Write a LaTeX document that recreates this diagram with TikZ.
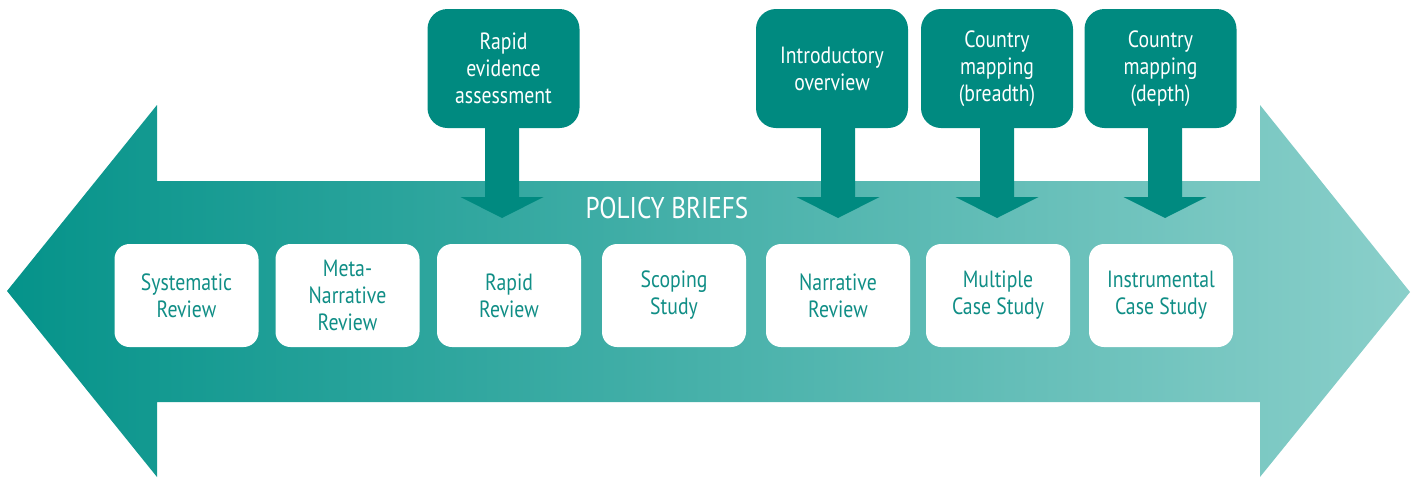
\documentclass[tikz,border=0pt]{standalone}
\usepackage{fontspec}
\setmainfont[FakeStretch=0.84]{PT Sans}
\usetikzlibrary{calc}
\definecolor{tealdark}{HTML}{008A80}
\definecolor{tealleft}{HTML}{05938A}
\definecolor{tealright}{HTML}{8ACFCA}
\definecolor{tealtext}{HTML}{108E86}
\tikzset{
  whitebox/.style={fill=white, rounded corners=15pt, minimum width=144pt, minimum height=103pt,
    align=center, text=tealtext, font=\fontsize{23.5}{27}\selectfont, inner sep=0pt},
  topbox/.style={fill=tealdark, rounded corners=20pt, minimum width=152pt, minimum height=119pt,
    align=center, text=white, font=\fontsize{23.5}{27}\selectfont, inner sep=0pt},
  pointer/.style={fill=tealdark}
}
\newcommand{\pointerarrow}[3]{% box, x of stem centre, tip name
  \coordinate (#3base) at (#2,0 |- #1.south);
  \coordinate (#3) at (#2,218);
  \fill[pointer] ($(#3base)+(-17,-1)$) -- ($(#3base)+(17,-1)$) -- (#2+17,197) -- (#2+41.5,197)
    -- (#3) -- (#2-41.5,197) -- (#2-17,197) -- cycle;
}
\begin{document}
\begin{tikzpicture}[x=1pt,y=-1pt]
\useasboundingbox (0,0) rectangle (1417,477);
% double arrow
\shade[left color=tealleft, right color=tealright]
  (7,291) -- (157,105) -- (157,181) -- (1260,181) -- (1260,105) -- (1410,292)
  -- (1260,477) -- (1260,402) -- (157,402) -- (157,477) -- cycle;
% title
\node[text=white, font=\fontsize{30}{34}\selectfont, inner sep=0pt] (title) at (667,208) {POLICY BRIEFS};
% white boxes
\node[whitebox] (sr) at (186.5,295.5) {Systematic\\Review};
\node[whitebox] (mn) at (347.5,295.5) {Meta-\\Narrative\\Review};
\node[whitebox] (rr) at (509,295.5) {Rapid\\Review};
\node[whitebox] (ss) at (674,295.5) {Scoping\\Study};
\node[whitebox] (nr) at (838,295.5) {Narrative\\Review};
\node[whitebox] (mc) at (998,295.5) {Multiple\\Case Study};
\node[whitebox] (ic) at (1161,295.5) {Instrumental\\Case Study};
% top boxes
\node[topbox] (rea) at (503.5,68.5) {Rapid\\evidence\\assessment};
\node[topbox] (io) at (832,68.5) {Introductory\\overview};
\node[topbox] (cmb) at (997,68.5) {Country\\mapping\\(breadth)};
\node[topbox] (cmd) at (1160.5,68.5) {Country\\mapping\\(depth)};
% pointers
\pointerarrow{rea}{502}{reatip}
\pointerarrow{io}{838}{iotip}
\pointerarrow{cmb}{997}{cmbtip}
\pointerarrow{cmd}{1165}{cmdtip}
\end{tikzpicture}
\end{document}
